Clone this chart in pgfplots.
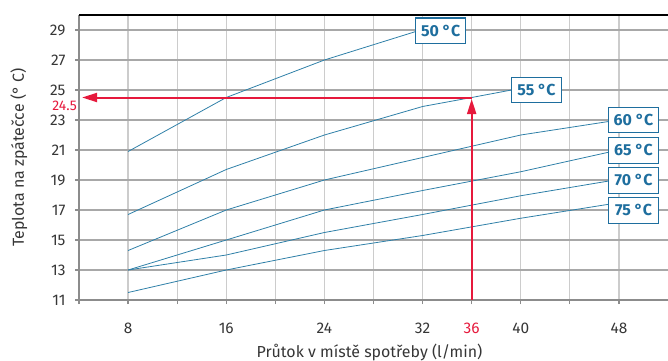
\documentclass[border=0pt]{standalone}
\usepackage{fontspec}
\setmainfont{Fira Sans}
\usepackage{pgfplots}
\pgfplotsset{compat=1.18}
\usetikzlibrary{arrows.meta}
\definecolor{curve}{HTML}{2F80A8}
\definecolor{boxblue}{HTML}{1E6E9E}
\definecolor{annred}{HTML}{E6193C}
\definecolor{hgrid}{HTML}{A8A8A8}
\definecolor{vgrid}{HTML}{CCCCCC}
\definecolor{axgray}{HTML}{8C8C8C}
\definecolor{txt}{HTML}{363636}
\begin{document}
\begin{tikzpicture}
\begin{axis}[
  scale only axis, width=589bp, height=285bp,
  xmin=4, xmax=52, ymin=11, ymax=30,
  clip=false,
  axis x line*=bottom, axis y line*=left,
  axis line style={axgray, line width=2bp, -},
  xtick={4,8,...,48}, xticklabels={,8,,16,,24,,32,,40,,48},
  ytick={11,13,...,29},
  extra x ticks={36}, extra x tick labels={36},
  extra x tick style={grid=none, xticklabel style={text=annred}},
  extra y ticks={24.5}, extra y tick labels={24.5},
  extra y tick style={grid=none, major tick length=0pt, yticklabel style={text=annred, font=\fontsize{14}{15}\selectfont, inner sep=0pt, xshift=4bp, yshift=-8bp}},
  xmajorgrids, ymajorgrids,
  major x grid style={vgrid, line width=1.3bp},
  major y grid style={hgrid, line width=1.3bp},
  tick align=outside, major tick length=4bp,
  tick style={axgray, line width=1.3bp},
  every tick label/.append style={font=\fontsize{15.5}{17}\selectfont, text=txt},
  /pgf/number format/assume math mode=true,
  xticklabel style={anchor=base, yshift=-29bp},
  yticklabel style={xshift=-6bp},
  xlabel={Průtok v místě spotřeby (l/min)},
  ylabel={Teplota na zpátečce (° C)},
  label style={font=\fontsize{16}{18}\selectfont, text=txt},
  xlabel style={at={(axis description cs:0.4932,0)}, anchor=base, yshift=-57bp},
  ylabel style={at={(axis description cs:-0.0934,0.5)}, anchor=base},
]
\addplot[color=curve, line width=0.8bp] coordinates {(8,20.9) (16,24.5) (24,27) (31.45,28.9)};
\addplot[color=curve, line width=0.8bp] coordinates {(8,16.7) (16,19.7) (24,22) (32,23.9) (36,24.5) (39.25,25)};
\addplot[color=curve, line width=0.8bp] coordinates {(8,14.3) (16,17) (24,19) (32,20.5) (40,22) (47.15,22.9)};
\addplot[color=curve, line width=0.8bp] coordinates {(8,13) (16,15) (24,17) (32,18.3) (40,19.55) (47.15,20.85)};
\addplot[color=curve, line width=0.8bp] coordinates {(8,13) (16,14) (24,15.5) (32,16.7) (40,17.95) (47.15,18.93)};
\addplot[color=curve, line width=0.8bp] coordinates {(8,11.5) (16,13) (24,14.3) (32,15.3) (40,16.45) (47.15,17.38)};
\addplot[color=annred, line width=2bp, -{Triangle[length=15bp,width=9bp]}] coordinates {(36,24.5) (4.25,24.5)};
\addplot[color=annred, line width=2bp, -{Triangle[length=15bp,width=9bp]}] coordinates {(36,11) (36,24.4)};
\draw[black, line width=1.5bp] (rel axis cs:0,1) -- (rel axis cs:1,1);
\tikzset{lbl/.style={draw=boxblue, line width=1.3bp, fill=white, text=boxblue, font=\bfseries\fontsize{16}{18}\selectfont, minimum width=50bp, minimum height=25.6bp, inner sep=0pt}}
\node[lbl] at (axis cs:33.47,28.95) {50 °C};
\node[lbl] at (axis cs:41.28,25.0) {55 °C};
\node[lbl] at (axis cs:49.19,23.0) {60 °C};
\node[lbl] at (axis cs:49.19,20.97) {65 °C};
\node[lbl] at (axis cs:49.19,18.97) {70 °C};
\node[lbl] at (axis cs:49.19,16.97) {75 °C};
\coordinate (BL) at (rel axis cs:0,0);
\coordinate (TR) at (rel axis cs:1,1);
\end{axis}
\pgfresetboundingbox
\path ([shift={(-79bp,-60bp)}]BL) rectangle ([shift={(0bp,15bp)}]TR);
\end{tikzpicture}
\end{document}
